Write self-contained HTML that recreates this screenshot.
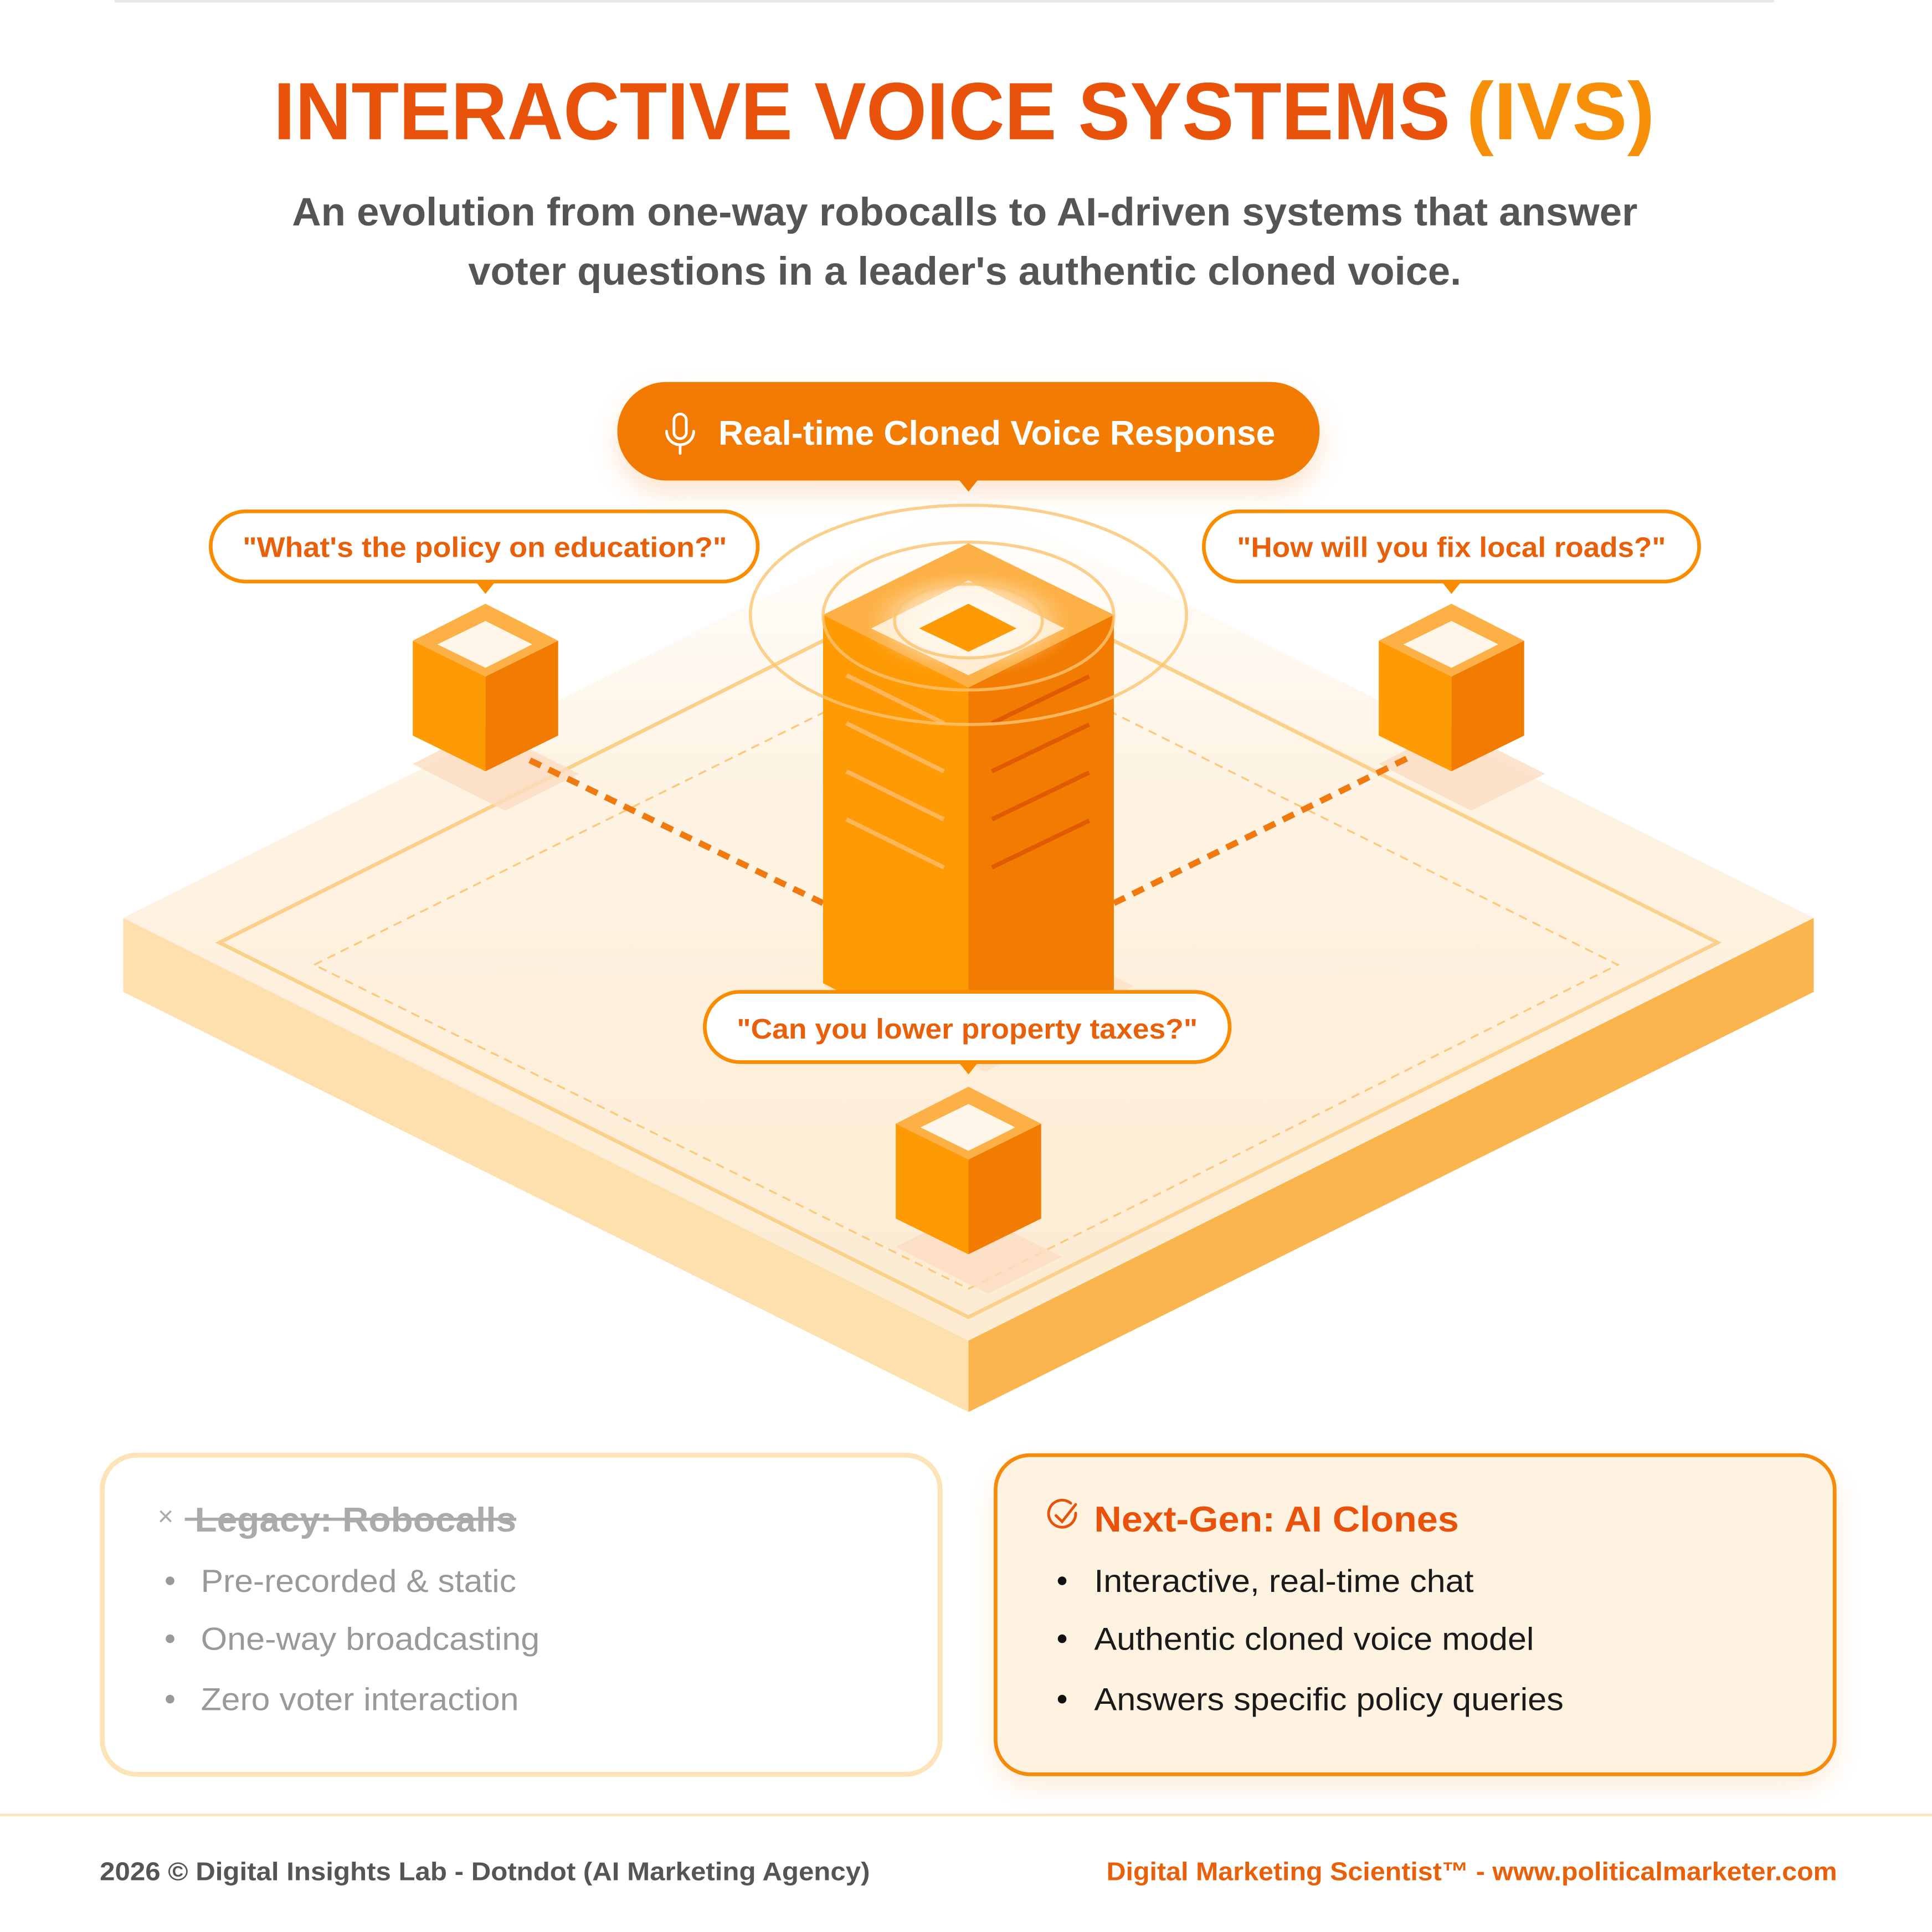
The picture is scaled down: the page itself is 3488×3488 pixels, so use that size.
<!DOCTYPE html>
<html><head><meta charset="utf-8"><style>
html,body{margin:0;padding:0;background:#fff;}
svg{display:block;}
text{font-family:"Liberation Sans",sans-serif;}
</style></head><body>
<svg width="3488" height="3488" viewBox="0 0 1568 1568" xmlns="http://www.w3.org/2000/svg">
<defs>
<linearGradient id="topg" x1="0" y1="0" x2="0" y2="1">
<stop offset="0" stop-color="#ffffff"/><stop offset="0.35" stop-color="#fef3e3"/><stop offset="1" stop-color="#fdebd2"/>
</linearGradient>
<linearGradient id="pill" x1="0" y1="0" x2="1" y2="0">
<stop offset="0" stop-color="#f27a02"/><stop offset="1" stop-color="#f27c02"/>
</linearGradient>
<radialGradient id="glow" cx="0.5" cy="0.5" r="0.5">
<stop offset="0" stop-color="#ffffff" stop-opacity="1"/><stop offset="0.6" stop-color="#fff3e0" stop-opacity="0.8"/><stop offset="1" stop-color="#fdb045" stop-opacity="0"/>
</radialGradient>
<filter id="sh" x="-20%" y="-40%" width="140%" height="180%"><feGaussianBlur stdDeviation="10"/></filter>
</defs>
<rect width="1568" height="1568" fill="#fff"/>
<line x1="93" y1="1" x2="1440" y2="1" stroke="#e8e8e8" stroke-width="2"/>

<!-- Title -->
<text x="222" y="113" font-size="66" font-weight="700" fill="#e8520a" textLength="955" lengthAdjust="spacingAndGlyphs">INTERACTIVE VOICE SYSTEMS</text>
<text x="1190" y="113" font-size="66" font-weight="700" fill="#f79008" textLength="153" lengthAdjust="spacingAndGlyphs">(IVS)</text>
<text x="237" y="183" font-size="32" font-weight="700" fill="#555" textLength="1092" lengthAdjust="spacingAndGlyphs">An evolution from one-way robocalls to AI-driven systems that answer</text>
<text x="380" y="231" font-size="32" font-weight="700" fill="#555" textLength="806" lengthAdjust="spacingAndGlyphs">voter questions in a leader's authentic cloned voice.</text>

<!-- Platform -->
<polygon points="100,745 786,1088 786,1146 100,805" fill="#fde0ae"/>
<polygon points="786,1088 1472,745 1472,805 786,1146" fill="#fbb54f"/>
<polygon points="100,745 786,402 1472,745 786,1088" fill="url(#topg)"/>
<polygon points="178,765 786,461 1394,765 786,1069" fill="none" stroke="#fbd08a" stroke-width="3"/>
<polygon points="255,783 786,520 1313,783 786,1046" fill="none" stroke="#fcc97a" stroke-width="1.5" stroke-dasharray="7,5"/>

<!-- shadows -->
<polygon points="335,620 394,590 470,628 410,658" fill="#fbdcc0" opacity="0.8"/>
<polygon points="1119,620 1178,590 1254,628 1194,658" fill="#fbdcc0" opacity="0.8"/>
<polygon points="727,1012 786,982 862,1020 802,1050" fill="#fbdcc0" opacity="0.8"/>
<polygon points="668,800 786,740 920,800 800,870" fill="#fbdcc0" opacity="0.6"/>

<!-- connectors -->
<line x1="430" y1="617" x2="668" y2="733" stroke="#f07a10" stroke-width="5" stroke-dasharray="10,7"/>
<line x1="904" y1="733" x2="1143" y2="615" stroke="#f07a10" stroke-width="5" stroke-dasharray="10,7"/>

<!-- Tower -->
<polygon points="668,499 786,558 786,858 668,798" fill="#fe9a03"/>
<polygon points="786,558 904,499 904,805 786,858" fill="#f27c02"/>
<polygon points="668,499 786,441 904,499 786,558" fill="#fdb045"/>
<polygon points="707,510 786,471 864,510 786,548" fill="#fff6ea"/>
<ellipse cx="786" cy="505" rx="90" ry="45" fill="url(#glow)" opacity="0.7"/>
<polygon points="746,510 786,490 825,510 786,529" fill="#fe9a03"/>
<g stroke="#fdb65a" stroke-width="3.5">
<line x1="687" y1="548" x2="766" y2="587"/><line x1="687" y1="587" x2="766" y2="626"/>
<line x1="687" y1="626" x2="766" y2="665"/><line x1="687" y1="665" x2="766" y2="704"/>
</g>
<g stroke="#e05a00" stroke-width="3.5">
<line x1="805" y1="587" x2="884" y2="549"/><line x1="805" y1="626" x2="884" y2="588"/>
<line x1="805" y1="665" x2="884" y2="627"/><line x1="805" y1="704" x2="884" y2="666"/>
</g>
<g fill="none" stroke="#fbc470" stroke-width="2.5" opacity="0.8">
<ellipse cx="786" cy="499" rx="177" ry="89"/>
<ellipse cx="786" cy="500" rx="118" ry="60"/>
<ellipse cx="786" cy="504" rx="60" ry="30"/>
</g>

<!-- Cubes -->
<g id="cube">
<polygon points="335,520 394,549 394,626 335,597" fill="#fe9a03"/>
<polygon points="394,549 453,520 453,597 394,626" fill="#f27c02"/>
<polygon points="335,520 394,490 453,520 394,549" fill="#fdb045"/>
<polygon points="355,523 394,504 432,523 394,542" fill="#fff6ea"/>
</g>
<use href="#cube" x="784" y="0"/>
<use href="#cube" x="392" y="392"/>

<!-- Top pill -->
<rect x="501" y="320" width="570" height="80" rx="40" fill="#f9b070" opacity="0.35" filter="url(#sh)"/>
<rect x="501" y="310" width="570" height="80" rx="40" fill="url(#pill)"/>
<polygon points="778,389 794,389 786,399" fill="#f27a02"/>
<g fill="none" stroke="#fff" stroke-width="2.2" stroke-linecap="round">
<rect x="547" y="336" width="10" height="20" rx="5"/>
<path d="M541,350 a11,11 0 0 0 22,0"/>
<line x1="552" y1="361" x2="552" y2="368"/>
</g>
<text x="583" y="361" font-size="28" font-weight="700" fill="#fff" textLength="452" lengthAdjust="spacingAndGlyphs">Real-time Cloned Voice Response</text>

<!-- Bubbles -->
<g fill="#fff" stroke="#f98c00" stroke-width="3">
<rect x="171" y="415" width="444" height="57" rx="28.5"/>
<rect x="977" y="415" width="402" height="57" rx="28.5"/>
<rect x="572" y="805" width="426" height="57" rx="28.5"/>
</g>
<g fill="#f98c00">
<polygon points="386,472 402,472 394,482"/>
<polygon points="1170,472 1186,472 1178,482"/>
<polygon points="778,862 794,862 786,872"/>
</g>
<g font-size="23" font-weight="700" fill="#e8600a">
<text x="197" y="452" textLength="393" lengthAdjust="spacingAndGlyphs">"What's the policy on education?"</text>
<text x="1004" y="452" textLength="348" lengthAdjust="spacingAndGlyphs">"How will you fix local roads?"</text>
<text x="598" y="843" textLength="374" lengthAdjust="spacingAndGlyphs">"Can you lower property taxes?"</text>
</g>

<!-- Cards -->
<rect x="807" y="1190" width="683" height="260" rx="30" fill="#f9c890" opacity="0.35" filter="url(#sh)"/>
<rect x="83" y="1181" width="680" height="259" rx="28" fill="#fff" stroke="#fde3b8" stroke-width="4"/>
<rect x="808" y="1181" width="681" height="259" rx="28" fill="#fef2e1" stroke="#f68a0a" stroke-width="3"/>

<text x="128" y="1238" font-size="22" fill="#aaa">×</text>
<text x="158" y="1243" font-size="28" font-weight="700" fill="#aaa" textLength="261" lengthAdjust="spacingAndGlyphs">Legacy: Robocalls</text>
<line x1="150" y1="1233" x2="419" y2="1233" stroke="#aaa" stroke-width="2.5"/>
<g fill="#999">
<circle cx="138" cy="1283" r="3.5"/><circle cx="138" cy="1330" r="3.5"/><circle cx="138" cy="1379" r="3.5"/>
</g>
<g font-size="26" fill="#999">
<text x="163" y="1292" textLength="256" lengthAdjust="spacingAndGlyphs">Pre-recorded &amp; static</text>
<text x="163" y="1339" textLength="275" lengthAdjust="spacingAndGlyphs">One-way broadcasting</text>
<text x="163" y="1388" textLength="258" lengthAdjust="spacingAndGlyphs">Zero voter interaction</text>
</g>

<g fill="none" stroke="#e8520a" stroke-width="2.2" stroke-linecap="round">
<path d="M873,1228 a11,11 0 1 1 -4,-8"/>
<path d="M857,1230 l5,5 l11,-14"/>
</g>
<text x="888" y="1243" font-size="29" font-weight="700" fill="#e8520a" textLength="296" lengthAdjust="spacingAndGlyphs">Next-Gen: AI Clones</text>
<g fill="#111">
<circle cx="862" cy="1283" r="3.5"/><circle cx="862" cy="1330" r="3.5"/><circle cx="862" cy="1379" r="3.5"/>
</g>
<g font-size="26" fill="#1a1a1a">
<text x="888" y="1292" textLength="308" lengthAdjust="spacingAndGlyphs">Interactive, real-time chat</text>
<text x="888" y="1339" textLength="357" lengthAdjust="spacingAndGlyphs">Authentic cloned voice model</text>
<text x="888" y="1388" textLength="381" lengthAdjust="spacingAndGlyphs">Answers specific policy queries</text>
</g>

<!-- Footer -->
<line x1="0" y1="1473" x2="1568" y2="1473" stroke="#fde3b8" stroke-width="2"/>
<text x="81" y="1526" font-size="21" font-weight="700" fill="#555" textLength="625" lengthAdjust="spacingAndGlyphs">2026 © Digital Insights Lab - Dotndot (AI Marketing Agency)</text>
<text x="898" y="1526" font-size="21" font-weight="700" fill="#e8600a" textLength="593" lengthAdjust="spacingAndGlyphs">Digital Marketing Scientist™ - www.politicalmarketer.com</text>
</svg>
</body></html>
